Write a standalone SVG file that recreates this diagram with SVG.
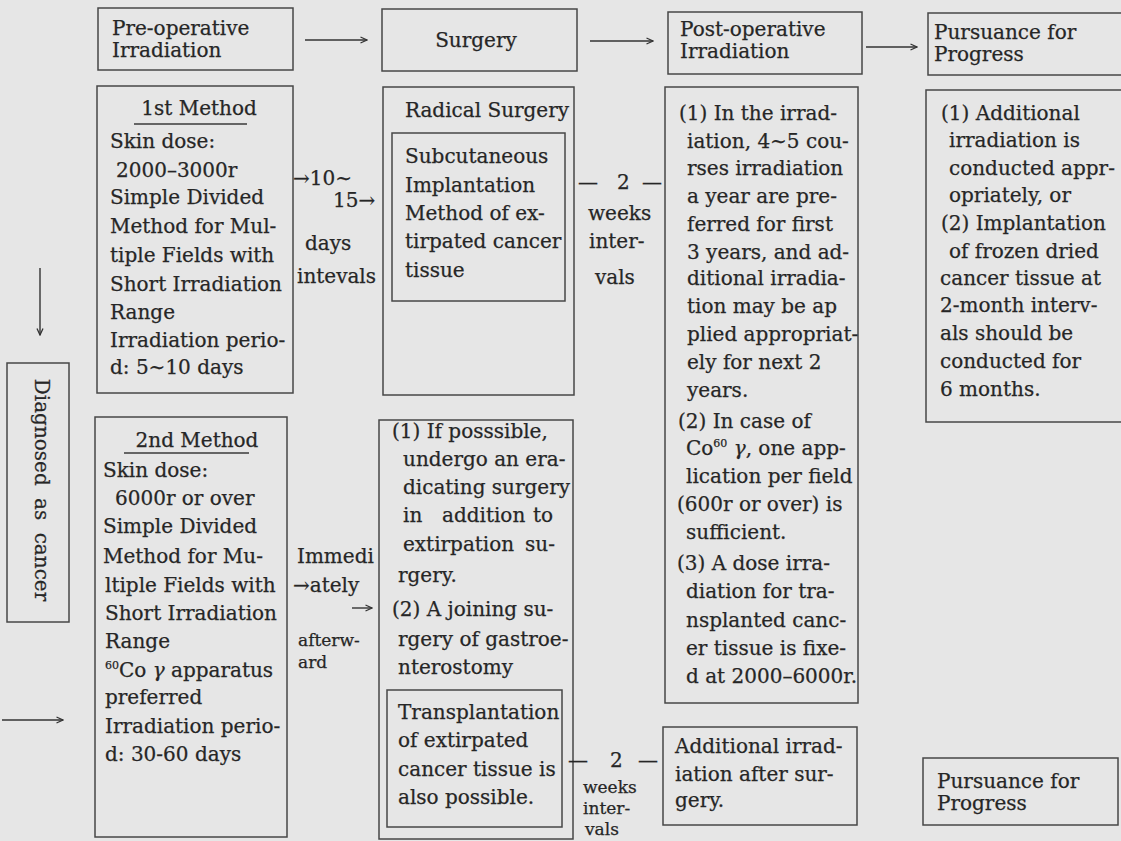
<svg xmlns="http://www.w3.org/2000/svg" width="1121" height="841" viewBox="0 0 1121 841">
<defs>
<style>
.bg{fill:#e6e6e6}
.box{fill:none;stroke:#474747;stroke-width:1.5}
.t{font-family:"DejaVu Serif","Liberation Serif",serif;font-size:20px;fill:#262626;stroke:#262626;stroke-width:0.25}
.s{font-size:17px}
.c{text-anchor:middle}
.ln{stroke:#3a3a3a;stroke-width:1.4;fill:none}
.conn{stroke:#333;stroke-width:1.4;fill:none;marker-end:url(#ah)}
.sup{font-size:11px}
</style>
<marker id="ah" viewBox="0 0 8 8" refX="7.5" refY="4" markerWidth="8" markerHeight="8" markerUnits="userSpaceOnUse" orient="auto">
<path d="M1,1 L7.5,4 L1,7" fill="none" stroke="#333" stroke-width="1.3"/>
</marker>
</defs>
<rect class="bg" x="0" y="0" width="1121" height="841"/>

<g id="connectors">
<line class="conn" x1="305" y1="40" x2="367" y2="40"/>
<line class="conn" x1="590" y1="41" x2="653" y2="41"/>
<line class="conn" x1="866" y1="47" x2="917" y2="47"/>
<line class="conn" x1="40" y1="268" x2="40" y2="335"/>
<line class="conn" x1="2" y1="720" x2="63" y2="720"/>
<line class="conn" x1="352" y1="608" x2="372" y2="608"/>
</g>

<g id="preop-header">
<rect class="box" x="98" y="8" width="195" height="62"/>
<text class="t" x="112" y="35">Pre-operative</text>
<text class="t" x="112" y="57">Irradiation</text>
</g>

<g id="surgery-header">
<rect class="box" x="382" y="9" width="195" height="62"/>
<text class="t c" x="476" y="47">Surgery</text>
</g>

<g id="postop-header">
<rect class="box" x="668" y="12" width="194" height="62"/>
<text class="t" x="680" y="36">Post-operative</text>
<text class="t" x="680" y="58">Irradiation</text>
</g>

<g id="pursuance-header">
<rect class="box" x="928" y="13" width="210" height="62"/>
<text class="t" x="934" y="39">Pursuance for</text>
<text class="t" x="934" y="61">Progress</text>
</g>

<g id="method1">
<rect class="box" x="97" y="86" width="196" height="307"/>
<text class="t c" x="199" y="115">1st Method</text>
<line class="ln" x1="134" y1="124" x2="247" y2="124"/>
<text class="t" x="110" y="148">Skin dose:</text>
<text class="t" x="116" y="177">2000–3000r</text>
<text class="t" x="110" y="204">Simple Divided</text>
<text class="t" x="110" y="233">Method for Mul-</text>
<text class="t" x="110" y="262">tiple Fields with</text>
<text class="t" x="110" y="291">Short Irradiation</text>
<text class="t" x="110" y="319">Range</text>
<text class="t" x="110" y="347">Irradiation perio-</text>
<text class="t" x="110" y="374">d: 5∼10 days</text>
</g>

<g id="interval1">
<text class="t" x="293" y="185">→10∼</text>
<text class="t" x="333" y="207">15→</text>
<text class="t" x="305" y="250">days</text>
<text class="t" x="297" y="283">intevals</text>
</g>

<g id="diagnosed">
<rect class="box" x="7" y="363" width="62" height="259"/>
<text class="t c" transform="translate(35,490) rotate(90)" word-spacing="6">Diagnosed as cancer</text>
</g>

<g id="method2">
<rect class="box" x="95" y="417" width="192" height="420"/>
<text class="t c" x="197" y="447">2nd Method</text>
<line class="ln" x1="124" y1="453" x2="249" y2="453"/>
<text class="t" x="103" y="477">Skin dose:</text>
<text class="t" x="115" y="505">6000r or over</text>
<text class="t" x="103" y="533">Simple Divided</text>
<text class="t" x="103" y="563">Method for Mu-</text>
<text class="t" x="105" y="592">ltiple Fields with</text>
<text class="t" x="105" y="620">Short Irradiation</text>
<text class="t" x="105" y="648">Range</text>
<text class="t" x="105" y="677"><tspan class="sup" dy="-8">60</tspan><tspan dy="8">Co </tspan><tspan font-style="italic">γ</tspan> apparatus</text>
<text class="t" x="105" y="704">preferred</text>
<text class="t" x="105" y="733">Irradiation perio-</text>
<text class="t" x="105" y="761">d: 30-60 days</text>
</g>

<g id="interval2">
<text class="t" x="297" y="563">Immedi</text>
<text class="t" x="293" y="592">→ately</text>
<text class="t s" x="298" y="646">afterw-</text>
<text class="t s" x="298" y="668">ard</text>
</g>

<g id="radical-surgery">
<rect class="box" x="383" y="87" width="191" height="308"/>
<text class="t c" x="487" y="117">Radical Surgery</text>
</g>

<g id="subcutaneous">
<rect class="box" x="392" y="133" width="173" height="168"/>
<text class="t" x="405" y="163">Subcutaneous</text>
<text class="t" x="405" y="192">Implantation</text>
<text class="t" x="405" y="220">Method of ex-</text>
<text class="t" x="405" y="248">tirpated cancer</text>
<text class="t" x="405" y="277">tissue</text>
</g>

<g id="interval3">
<text class="t" x="578" y="189">—</text>
<text class="t" x="617" y="189">2</text>
<text class="t" x="642" y="189">—</text>
<text class="t" x="588" y="220">weeks</text>
<text class="t" x="589" y="248">inter-</text>
<text class="t" x="595" y="284">vals</text>
</g>

<g id="surgery2">
<rect class="box" x="379" y="420" width="194" height="419"/>
<text class="t" x="392" y="438">(1) If posssible,</text>
<text class="t" x="403" y="466">undergo an era-</text>
<text class="t" x="403" y="494">dicating surgery</text>
<text class="t" y="522"><tspan x="403">in</tspan><tspan x="442">addition</tspan><tspan x="533">to</tspan></text>
<text class="t" y="551"><tspan x="403">extirpation</tspan><tspan x="525">su-</tspan></text>
<text class="t" x="398" y="582">rgery.</text>
<text class="t" x="392" y="616">(2) A joining su-</text>
<text class="t" x="398" y="646">rgery of gastroe-</text>
<text class="t" x="398" y="674">nterostomy</text>
</g>

<g id="transplantation">
<rect class="box" x="387" y="690" width="175" height="137"/>
<text class="t" x="398" y="719">Transplantation</text>
<text class="t" x="398" y="747">of extirpated</text>
<text class="t" x="398" y="776">cancer tissue is</text>
<text class="t" x="398" y="804">also possible.</text>
</g>

<g id="interval4">
<text class="t" x="568" y="767">—</text>
<text class="t" x="610" y="767">2</text>
<text class="t" x="638" y="767">—</text>
<text class="t s" x="583" y="793">weeks</text>
<text class="t s" x="583" y="814">inter-</text>
<text class="t s" x="585" y="835">vals</text>
</g>

<g id="postop-body">
<rect class="box" x="665" y="87" width="193" height="616"/>
<text class="t" x="679" y="120">(1) In the irrad-</text>
<text class="t" x="687" y="148">iation, 4∼5 cou-</text>
<text class="t" x="687" y="175">rses irradiation</text>
<text class="t" x="687" y="203">a year are pre-</text>
<text class="t" x="687" y="231">ferred for first</text>
<text class="t" x="687" y="259">3 years, and ad-</text>
<text class="t" x="687" y="285">ditional irradia-</text>
<text class="t" x="687" y="313">tion may be ap</text>
<text class="t" x="687" y="341">plied appropriat-</text>
<text class="t" x="687" y="369">ely for next 2</text>
<text class="t" x="687" y="397">years.</text>
<text class="t" x="678" y="428">(2) In case of</text>
<text class="t" x="686" y="455">Co<tspan class="sup" dy="-8">60</tspan><tspan dy="8"> </tspan><tspan font-style="italic">γ</tspan>, one app-</text>
<text class="t" x="686" y="483">lication per field</text>
<text class="t" x="677" y="511">(600r or over) is</text>
<text class="t" x="686" y="539">sufficient.</text>
<text class="t" x="677" y="570">(3) A dose irra-</text>
<text class="t" x="686" y="598">diation for tra-</text>
<text class="t" x="686" y="627">nsplanted canc-</text>
<text class="t" x="686" y="655">er tissue is fixe-</text>
<text class="t" x="686" y="683">d at 2000–6000r.</text>
</g>

<g id="additional">
<rect class="box" x="663" y="727" width="194" height="98"/>
<text class="t" x="675" y="753">Additional irrad-</text>
<text class="t" x="675" y="781">iation after sur-</text>
<text class="t" x="675" y="807">gery.</text>
</g>

<g id="pursuance-body">
<rect class="box" x="926" y="90" width="210" height="332"/>
<text class="t" x="941" y="120">(1) Additional</text>
<text class="t" x="949" y="147">irradiation is</text>
<text class="t" x="949" y="175">conducted appr-</text>
<text class="t" x="949" y="202">opriately, or</text>
<text class="t" x="941" y="230">(2) Implantation</text>
<text class="t" x="949" y="258">of frozen dried</text>
<text class="t" x="940" y="285">cancer tissue at</text>
<text class="t" x="940" y="312">2-month interv-</text>
<text class="t" x="940" y="340">als should be</text>
<text class="t" x="940" y="368">conducted for</text>
<text class="t" x="940" y="396">6 months.</text>
</g>

<g id="pursuance-bottom">
<rect class="box" x="923" y="758" width="195" height="67"/>
<text class="t" x="937" y="788">Pursuance for</text>
<text class="t" x="937" y="810">Progress</text>
</g>
</svg>
